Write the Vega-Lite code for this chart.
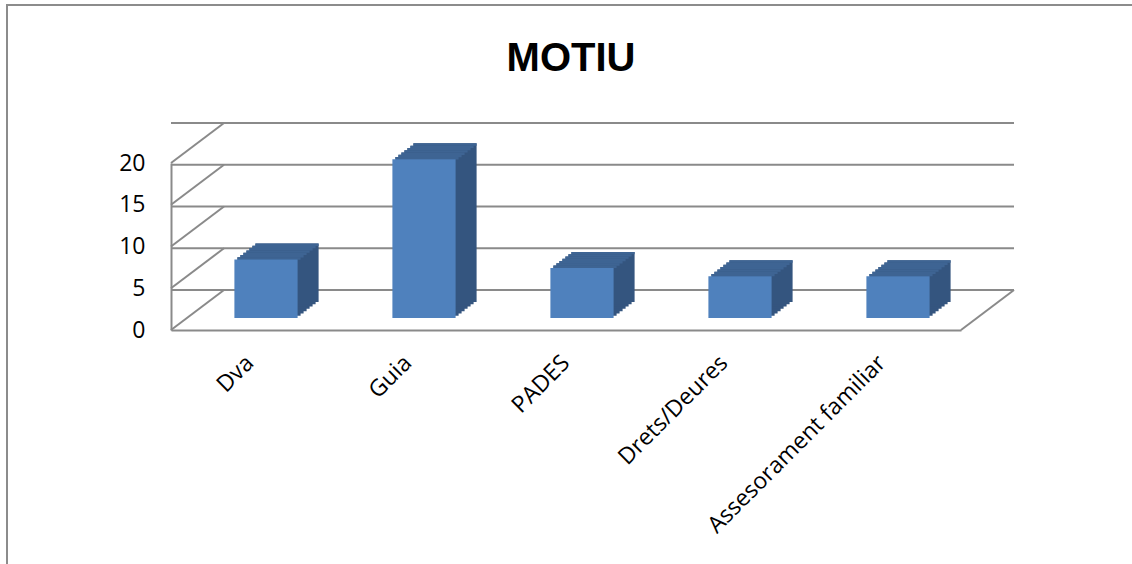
{
  "$schema": "https://vega.github.io/schema/vega-lite/v6.json",
  "autosize": {"type": "none"},
  "width": 790,
  "height": 167,
  "padding": {"left": 171, "top": 163, "right": 171, "bottom": 234},
  "background": "#ffffff",
  "config": {
    "view": {"stroke": null},
    "axisX": {"domain": true, "domainColor": "#8a8a8a", "domainWidth": 2, "ticks": false, "tickSize": 0, "grid": false,
      "labelAngle": -45, "labelAlign": "right", "labelBaseline": "middle", "labelPadding": 29, "labelLimit": 0,
      "labelFont": "Open Sans", "labelFontSize": 23, "labelColor": "#000000", "labelOverlap": false},
    "axisY": {"domain": true, "domainColor": "#8a8a8a", "domainWidth": 2, "ticks": false, "tickSize": 0, "grid": false,
      "tickCount": 5, "labelPadding": 26, "labelFont": "Open Sans", "labelFontSize": 23, "labelColor": "#000000"}
  },
  "title": {
    "text": "MOTIU",
    "font": "Liberation Sans",
    "fontSize": 40,
    "fontWeight": "bold",
    "color": "#000000",
    "frame": "group",
    "anchor": "middle",
    "baseline": "alphabetic",
    "offset": -107,
    "dx": 5
  },
  "datasets": {
    "motius": [
      {"motiu": "Dva", "n": 7},
      {"motiu": "Guia", "n": 19},
      {"motiu": "PADES", "n": 6},
      {"motiu": "Drets/Deures", "n": 5},
      {"motiu": "Assesorament familiar", "n": 5}
    ],
    "levels": [
      {"level": 0}, {"level": 5}, {"level": 10}, {"level": 15}, {"level": 20}
    ],
    "floor": [{"level": 0}],
    "frame": [{"k": 1}]
  },
  "layer": [
    {
      "data": {"name": "frame"},
      "mark": {"type": "rect", "filled": false, "stroke": "#8c8c8c", "strokeWidth": 2, "fill": null},
      "encoding": {
        "x": {"value": -164},
        "x2": {"value": 2000},
        "y": {"value": -158},
        "y2": {"value": 1000}
      }
    },
    {
      "data": {"name": "levels"},
      "mark": {"type": "rule", "color": "#8a8a8a", "strokeWidth": 2, "xOffset": 53, "yOffset": -40},
      "encoding": {
        "y": {"field": "level", "type": "quantitative", "title": null, "scale": {"domain": [0, 20], "nice": false}}
      }
    },
    {
      "data": {"name": "levels"},
      "mark": {"type": "rule", "color": "#8a8a8a", "strokeWidth": 2, "x2Offset": 53, "y2Offset": -40},
      "encoding": {
        "x": {"value": 0},
        "x2": {"value": 0},
        "y": {"field": "level", "type": "quantitative", "title": null, "scale": {"domain": [0, 20], "nice": false}},
        "y2": {"field": "level"}
      }
    },
    {
      "data": {"name": "floor"},
      "mark": {"type": "rule", "color": "#8a8a8a", "strokeWidth": 2, "x2Offset": 53, "y2Offset": -40},
      "encoding": {
        "x": {"value": "width"},
        "x2": {"value": "width"},
        "y": {"field": "level", "type": "quantitative", "title": null, "scale": {"domain": [0, 20], "nice": false}},
        "y2": {"field": "level"}
      }
    },
    {"data": {"name": "motius"}, "mark": {"type": "bar", "color": "#34557f", "xOffset": 19, "yOffset": -14.29},
      "encoding": {"x": {"field": "motiu", "type": "nominal", "sort": null, "title": null, "scale": {"paddingInner": 0.6, "paddingOuter": 0.3}},
        "y": {"field": "n", "type": "quantitative", "title": null, "scale": {"domain": [0, 20], "nice": false}}}},
    {"data": {"name": "motius"}, "mark": {"type": "bar", "color": "#34557f", "xOffset": 22, "yOffset": -16.57},
      "encoding": {"x": {"field": "motiu", "type": "nominal", "sort": null, "title": null, "scale": {"paddingInner": 0.6, "paddingOuter": 0.3}},
        "y": {"field": "n", "type": "quantitative", "title": null, "scale": {"domain": [0, 20], "nice": false}}}},
    {"data": {"name": "motius"}, "mark": {"type": "bar", "color": "#34557f", "xOffset": 25, "yOffset": -18.86},
      "encoding": {"x": {"field": "motiu", "type": "nominal", "sort": null, "title": null, "scale": {"paddingInner": 0.6, "paddingOuter": 0.3}},
        "y": {"field": "n", "type": "quantitative", "title": null, "scale": {"domain": [0, 20], "nice": false}}}},
    {"data": {"name": "motius"}, "mark": {"type": "bar", "color": "#34557f", "xOffset": 28, "yOffset": -21.14},
      "encoding": {"x": {"field": "motiu", "type": "nominal", "sort": null, "title": null, "scale": {"paddingInner": 0.6, "paddingOuter": 0.3}},
        "y": {"field": "n", "type": "quantitative", "title": null, "scale": {"domain": [0, 20], "nice": false}}}},
    {"data": {"name": "motius"}, "mark": {"type": "bar", "color": "#34557f", "xOffset": 31, "yOffset": -23.43},
      "encoding": {"x": {"field": "motiu", "type": "nominal", "sort": null, "title": null, "scale": {"paddingInner": 0.6, "paddingOuter": 0.3}},
        "y": {"field": "n", "type": "quantitative", "title": null, "scale": {"domain": [0, 20], "nice": false}}}},
    {"data": {"name": "motius"}, "mark": {"type": "bar", "color": "#34557f", "xOffset": 34, "yOffset": -25.71},
      "encoding": {"x": {"field": "motiu", "type": "nominal", "sort": null, "title": null, "scale": {"paddingInner": 0.6, "paddingOuter": 0.3}},
        "y": {"field": "n", "type": "quantitative", "title": null, "scale": {"domain": [0, 20], "nice": false}}}},
    {"data": {"name": "motius"}, "mark": {"type": "bar", "color": "#34557f", "xOffset": 37, "yOffset": -28},
      "encoding": {"x": {"field": "motiu", "type": "nominal", "sort": null, "title": null, "scale": {"paddingInner": 0.6, "paddingOuter": 0.3}},
        "y": {"field": "n", "type": "quantitative", "title": null, "scale": {"domain": [0, 20], "nice": false}}}},
    {"data": {"name": "motius"}, "mark": {"type": "bar", "color": "#3e6493", "xOffset": 19, "yOffset": -14.29, "y2Offset": -11.89},
      "encoding": {"x": {"field": "motiu", "type": "nominal", "sort": null, "title": null, "scale": {"paddingInner": 0.6, "paddingOuter": 0.3}},
        "y": {"field": "n", "type": "quantitative", "title": null, "scale": {"domain": [0, 20], "nice": false}}, "y2": {"field": "n"}}},
    {"data": {"name": "motius"}, "mark": {"type": "bar", "color": "#3e6493", "xOffset": 22, "yOffset": -16.57, "y2Offset": -14.17},
      "encoding": {"x": {"field": "motiu", "type": "nominal", "sort": null, "title": null, "scale": {"paddingInner": 0.6, "paddingOuter": 0.3}},
        "y": {"field": "n", "type": "quantitative", "title": null, "scale": {"domain": [0, 20], "nice": false}}, "y2": {"field": "n"}}},
    {"data": {"name": "motius"}, "mark": {"type": "bar", "color": "#3e6493", "xOffset": 25, "yOffset": -18.86, "y2Offset": -16.46},
      "encoding": {"x": {"field": "motiu", "type": "nominal", "sort": null, "title": null, "scale": {"paddingInner": 0.6, "paddingOuter": 0.3}},
        "y": {"field": "n", "type": "quantitative", "title": null, "scale": {"domain": [0, 20], "nice": false}}, "y2": {"field": "n"}}},
    {"data": {"name": "motius"}, "mark": {"type": "bar", "color": "#3e6493", "xOffset": 28, "yOffset": -21.14, "y2Offset": -18.74},
      "encoding": {"x": {"field": "motiu", "type": "nominal", "sort": null, "title": null, "scale": {"paddingInner": 0.6, "paddingOuter": 0.3}},
        "y": {"field": "n", "type": "quantitative", "title": null, "scale": {"domain": [0, 20], "nice": false}}, "y2": {"field": "n"}}},
    {"data": {"name": "motius"}, "mark": {"type": "bar", "color": "#3e6493", "xOffset": 31, "yOffset": -23.43, "y2Offset": -21.03},
      "encoding": {"x": {"field": "motiu", "type": "nominal", "sort": null, "title": null, "scale": {"paddingInner": 0.6, "paddingOuter": 0.3}},
        "y": {"field": "n", "type": "quantitative", "title": null, "scale": {"domain": [0, 20], "nice": false}}, "y2": {"field": "n"}}},
    {"data": {"name": "motius"}, "mark": {"type": "bar", "color": "#3e6493", "xOffset": 34, "yOffset": -25.71, "y2Offset": -23.31},
      "encoding": {"x": {"field": "motiu", "type": "nominal", "sort": null, "title": null, "scale": {"paddingInner": 0.6, "paddingOuter": 0.3}},
        "y": {"field": "n", "type": "quantitative", "title": null, "scale": {"domain": [0, 20], "nice": false}}, "y2": {"field": "n"}}},
    {"data": {"name": "motius"}, "mark": {"type": "bar", "color": "#3e6493", "xOffset": 37, "yOffset": -28, "y2Offset": -25.6},
      "encoding": {"x": {"field": "motiu", "type": "nominal", "sort": null, "title": null, "scale": {"paddingInner": 0.6, "paddingOuter": 0.3}},
        "y": {"field": "n", "type": "quantitative", "title": null, "scale": {"domain": [0, 20], "nice": false}}, "y2": {"field": "n"}}},
    {"data": {"name": "motius"}, "mark": {"type": "bar", "color": "#4f81bd", "xOffset": 16, "yOffset": -12},
      "encoding": {"x": {"field": "motiu", "type": "nominal", "sort": null, "title": null, "scale": {"paddingInner": 0.6, "paddingOuter": 0.3}},
        "y": {"field": "n", "type": "quantitative", "title": null, "scale": {"domain": [0, 20], "nice": false}}}}
  ]
}
